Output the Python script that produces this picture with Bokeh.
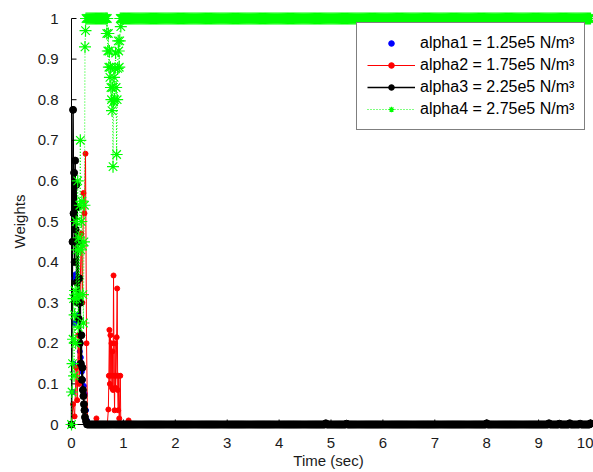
import numpy as np
from bokeh.plotting import figure
from bokeh.models import Range1d, FixedTicker, Legend, LegendItem
from bokeh.embed import file_html
from bokeh.resources import INLINE

# ---------------- data (weights vs. time, seconds) ----------------
# alpha1 = 1.25e5 N/m^3 : start-up transient, then settles at 0
a1_t = [0.00, 0.02, 0.04, 0.05, 0.06, 0.08, 0.10, 0.12, 0.14, 0.16, 0.18,
        0.20, 0.22, 0.24, 0.26, 0.28, 0.30]
a1_w = [0.00, 0.08, 0.15, 0.36, 0.25, 0.37, 0.31, 0.27, 0.22, 0.18, 0.165,
        0.13, 0.11, 0.095, 0.075, 0.035, 0.01]
a1_final = 0.0

# alpha2 = 1.75e5 N/m^3 : early spike, second burst near 0.8 s, then 0
a2_t = [0.00, 0.03, 0.06, 0.09, 0.11, 0.13, 0.15, 0.17, 0.19, 0.21, 0.23,
        0.25, 0.27, 0.29, 0.31, 0.40, 0.48, 0.56, 0.69, 0.71, 0.72, 0.73,
        0.74, 0.75, 0.76, 0.77, 0.78, 0.79, 0.80, 0.81, 0.82, 0.83, 0.84,
        0.85, 0.86, 0.87, 0.88, 0.89, 0.90, 0.91, 0.92, 0.94, 0.95, 1.02,
        1.10, 1.14]
a2_w = [0.00, 0.05, 0.02, 0.14, 0.06, 0.22, 0.10, 0.36, 0.47, 0.30, 0.57,
        0.52, 0.667, 0.20, 0.00, 0.00, 0.015, 0.00, 0.00, 0.037, 0.12, 0.233,
        0.10, 0.22, 0.12, 0.20, 0.09, 0.18, 0.085, 0.367, 0.12, 0.035, 0.20,
        0.09, 0.12, 0.215, 0.335, 0.085, 0.035, 0.12, 0.015, 0.12, 0.00, 0.00,
        0.01, 0.00]
a2_final = 0.0

# alpha3 = 2.25e5 N/m^3 : large early oscillation decaying to 0
a3_t = [0.00, 0.02, 0.03, 0.04, 0.05, 0.06, 0.07, 0.08, 0.09, 0.10, 0.11,
        0.12, 0.13, 0.14, 0.15, 0.16, 0.17, 0.18, 0.19, 0.20, 0.21, 0.22,
        0.23, 0.24, 0.25, 0.26, 0.28, 0.30]
a3_w = [0.00, 0.45, 0.775, 0.52, 0.62, 0.40, 0.65, 0.48, 0.59, 0.35, 0.535,
        0.30, 0.45, 0.26, 0.36, 0.20, 0.30, 0.15, 0.22, 0.11, 0.14, 0.085,
        0.07, 0.05, 0.035, 0.018, 0.008, 0.00]
a3_final = 0.0
# small late excursions of alpha3
a3_late_t = [4.90, 5.30, 8.00, 9.20, 9.40, 9.60, 9.80, 10.00]
a3_late_w = [0.003, 0.002, 0.003, 0.003, 0.002, 0.003, 0.002, 0.003]

# alpha4 = 2.75e5 N/m^3 : climbs to 1, dips near 0.8 s, then stays at 1
a4_t = [0.00, 0.01, 0.02, 0.03, 0.04, 0.05, 0.06, 0.07, 0.08, 0.09, 0.10,
        0.11, 0.12, 0.13, 0.14, 0.15, 0.16, 0.17, 0.18, 0.19, 0.20, 0.21,
        0.22, 0.23, 0.24, 0.25, 0.26, 0.27, 0.28]
a4_w = [0.00, 0.08, 0.15, 0.21, 0.31, 0.12, 0.27, 0.33, 0.20, 0.50, 0.31,
        0.43, 0.60, 0.24, 0.46, 0.32, 0.54, 0.70, 0.43, 0.50, 0.55, 0.44,
        0.32, 0.25, 0.45, 0.54, 0.93, 0.97, 1.00]
a4_dip_t = [0.66, 0.67, 0.68, 0.69, 0.70, 0.71, 0.72, 0.73, 0.74, 0.75, 0.76,
            0.77, 0.78, 0.79, 0.80, 0.81, 0.82, 0.83, 0.84, 0.85, 0.86, 0.87,
            0.88, 0.89, 0.90, 0.91, 0.92, 0.93, 0.94, 0.95, 0.96]
a4_dip_w = [1.00, 1.00, 0.963, 1.00, 0.92, 0.963, 0.88, 0.92, 0.855, 0.88,
            0.83, 0.80, 0.773, 0.83, 0.635, 0.795, 0.855, 0.80, 0.877, 0.915,
            0.83, 0.665, 0.80, 0.877, 0.945, 0.92, 0.88, 0.945, 1.00, 0.98,
            1.00]
a4_final = 1.0

# simulation output grid (s)
T_GRID = np.round(np.arange(0.0, 10.0001, 0.02), 2)

x_bounds = (0, 10)
y_bounds = (0, 1)
x_ticks = [0, 1, 2, 3, 4, 5, 6, 7, 8, 9, 10]
y_ticks = [0, 0.1, 0.2, 0.3, 0.4, 0.5, 0.6, 0.7, 0.8, 0.9, 1]
y_tick_labels = ["0", "0.1", "0.2", "0.3", "0.4", "0.5", "0.6", "0.7",
                 "0.8", "0.9", "1"]

labels = ["alpha1 = 1.25e5 N/m\u00b3", "alpha2 = 1.75e5 N/m\u00b3",
          "alpha3 = 2.25e5 N/m\u00b3", "alpha4 = 2.75e5 N/m\u00b3"]


def hold(level, after, until=10.0):
    """Grid samples where a series sits at its settled level."""
    ts = [float(t) for t in T_GRID if after < t <= until + 1e-9]
    return ts, [level] * len(ts)


# assemble full series
s1_t, s1_w = hold(a1_final, a1_t[-1])
s1_t, s1_w = a1_t + s1_t, a1_w + s1_w

s2_t, s2_w = hold(a2_final, a2_t[-1])
s2_t, s2_w = a2_t + s2_t, a2_w + s2_w

s3_t, s3_w = hold(a3_final, a3_t[-1])
late = dict(zip(a3_late_t, a3_late_w))
s3_w = [late.get(round(t, 2), w) for t, w in zip(s3_t, s3_w)]
s3_t, s3_w = a3_t + s3_t, a3_w + s3_w

g_mid_t, g_mid_w = hold(a4_final, a4_t[-1], a4_dip_t[0] - 0.005)
g_end_t, g_end_w = hold(a4_final, a4_dip_t[-1])
s4_t = a4_t + g_mid_t + a4_dip_t + g_end_t
s4_w = a4_w + g_mid_w + a4_dip_w + g_end_w

# ---------------- figure ----------------
# a little room around the data box so markers on its edges stay whole
PX_X = 51.9     # pixels per second
PX_Y = 406.0    # pixels per unit weight
FRAME_W, FRAME_H = 530, 422
x0 = -8 / PX_X
y0 = -8 / PX_Y
TICK = 5        # inward tick length, px

p = figure(width=593, height=472, output_backend="svg", toolbar_location=None,
           x_range=Range1d(x0, x0 + FRAME_W / PX_X),
           y_range=Range1d(y0, y0 + FRAME_H / PX_Y),
           min_border_left=63, min_border_right=0,
           min_border_top=10, min_border_bottom=40)
p.outline_line_color = None
p.grid.visible = False
p.background_fill_color = "white"
p.border_fill_color = "white"

FONT = "Liberation Sans"

for ax in (p.xaxis[0], p.yaxis[0]):
    ax.axis_line_color = None
    ax.major_tick_line_color = None
    ax.minor_tick_line_color = None
    ax.major_tick_in = 0
    ax.major_tick_out = 0
    ax.major_label_text_font = FONT
    ax.major_label_text_font_size = "15px"
    ax.major_label_text_color = "#1a1a1a"
    ax.major_label_standoff = 5
    ax.axis_label_text_font = FONT
    ax.axis_label_text_font_size = "15px"
    ax.axis_label_text_font_style = "normal"
    ax.axis_label_text_color = "#1a1a1a"

p.xaxis.ticker = FixedTicker(ticks=x_ticks)
p.xaxis.axis_label = "Time (sec)"
p.xaxis.axis_label_standoff = 1
p.yaxis.ticker = FixedTicker(ticks=y_ticks)
p.yaxis.major_label_overrides = {t: s for t, s in zip(y_ticks, y_tick_labels)}
p.yaxis.axis_label = "Weights"
p.yaxis.axis_label_standoff = 7

# axis lines along the data box edges, with inward ticks
p.segment(x0=[x_bounds[0], x_bounds[0]], y0=[y_bounds[0], y_bounds[0]],
          x1=[x_bounds[0], x_bounds[1]], y1=[y_bounds[1], y_bounds[0]],
          line_color="black", line_width=1)
p.segment(x0=[x_bounds[0]] * len(y_ticks), y0=y_ticks,
          x1=[x_bounds[0] + TICK / PX_X] * len(y_ticks), y1=y_ticks,
          line_color="black", line_width=1)
p.segment(x0=x_ticks, y0=[y_bounds[0]] * len(x_ticks),
          x1=x_ticks, y1=[y_bounds[0] + TICK / PX_Y] * len(x_ticks),
          line_color="black", line_width=1)

# series, drawn in plotting order
r1 = p.scatter(s1_t, s1_w, marker="circle", size=5, color="#0000ff")
r2l = p.line(s2_t, s2_w, line_color="#ff0000", line_width=1)
r2m = p.scatter(s2_t, s2_w, marker="circle", size=5, color="#ff0000")
r3l = p.line(s3_t, s3_w, line_color="black", line_width=1.5)
r3m = p.scatter(s3_t, s3_w, marker="circle", size=7, color="black")
r4l = p.line(s4_t, s4_w, line_color="#00ff00", line_width=1, line_dash="1 2")
r4m = p.scatter(s4_t, s4_w, marker="asterisk", size=12,
                line_color="#00ff00", line_width=1.2)

legend = Legend(items=[
    LegendItem(label=labels[0], renderers=[r1]),
    LegendItem(label=labels[1], renderers=[r2l, r2m]),
    LegendItem(label=labels[2], renderers=[r3l, r3m]),
    LegendItem(label=labels[3], renderers=[r4l, r4m]),
], location=(293, 302))
legend.border_line_color = "black"
legend.border_line_width = 1
legend.background_fill_color = "white"
legend.background_fill_alpha = 1.0
legend.label_text_font = FONT
legend.label_text_font_size = "16px"
legend.label_text_color = "black"
legend.glyph_width = 48
legend.glyph_height = 14
legend.label_height = 20
legend.spacing = 2
legend.padding = 10
legend.margin = 0
legend.label_standoff = 5
p.add_layout(legend)

open("out.html", "w").write(file_html(p, INLINE))
